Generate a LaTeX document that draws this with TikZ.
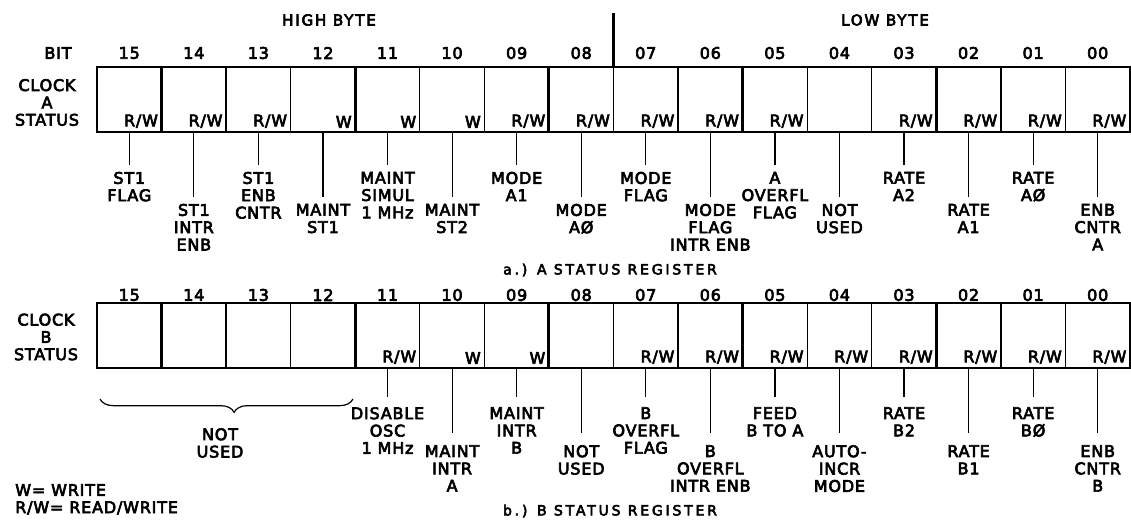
\documentclass[tikz,border=0pt]{standalone}
\usepackage{fontspec}
\setmainfont{DejaVu Sans}[LetterSpace=5,FakeBold=4]
\newfontfamily\ttlfont{DejaVu Sans}[LetterSpace=20,FakeBold=4]
\newfontfamily\bytefont{DejaVu Sans}[LetterSpace=12,FakeBold=4]
\usetikzlibrary{decorations.pathreplacing,calc}
\newcommand\acRW{R/W}
\begin{document}
\begin{tikzpicture}[x=0.75pt,y=-0.75pt,
  cell/.style={draw,line width=1pt,minimum width=48.42pt,minimum height=48.75pt,inner sep=0pt,outer sep=0pt},
  txt/.style={font=\fontsize{12}{13}\selectfont,inner sep=0pt},
  lab/.style={txt,align=center,anchor=north,inner xsep=0pt},
  acc/.style={txt,anchor=south east},
  lead/.style={line width=0.9pt},
  grp/.style={line width=2.2pt},
  frame/.style={line width=1.8pt},
  ttl/.style={inner sep=0pt,font=\ttlfont\fontsize{10.5}{12}\selectfont}]
\useasboundingbox (0,0) rectangle (1131,519);

% ---------- headings ----------
\node[inner sep=0pt,font=\bytefont\fontsize{11.3}{12}\selectfont] (hb) at (329,20) {HIGH BYTE};
\node[inner sep=0pt,font=\bytefont\fontsize{11.3}{12}\selectfont] (lb) at (885,20) {LOW BYTE};
\node[txt] (bit) at (58,53) {BIT};

% ---------- register A ----------
\foreach \n/\a [count=\i from 0] in {15/\acRW,14/\acRW,13/\acRW,12/W,11/W,10/W,09/\acRW,08/\acRW,07/\acRW,06/\acRW,05/\acRW,04/{},03/\acRW,02/\acRW,01/\acRW,00/\acRW}{
  \node[cell] (a\n) at ({97+64.5625*(\i+0.5)},99.5) {};
  \node[txt] (an\n) at ({97+64.5625*(\i+0.5)},53) {\n};
  \node[acc] (ar\n) at ([xshift=-2.5pt,yshift=3pt]a\n.south east) {\a};
}
\draw[frame] (a15.north west) rectangle (a00.south east);
\foreach \n in {14,11,08,05,02} \draw[grp] (a\n.north west) -- (a\n.south west);
\coordinate (bytetop) at ([yshift=40.5pt]a08.north east);
\draw[grp] (a08.north east) -- (bytetop);
\node[txt,align=center] (clka) at (47,102.5) {CLOCK\\A\\STATUS};

\foreach \n/\e/\t [count=\i from 0] in {
  15/165/{ST1\\FLAG},14/197/{ST1\\INTR\\ENB},13/165/{ST1\\ENB\\CNTR},12/197/{MAINT\\ST1},
  11/165/{MAINT\\SIMUL\\1 MHz},10/197/{MAINT\\ST2},09/165/{MODE\\A1},08/197/{MODE\\AØ},
  07/165/{MODE\\FLAG},06/197/{MODE\\FLAG\\INTR ENB},05/165/{A\\OVERFL\\FLAG},04/197/{NOT\\USED},
  03/165/{RATE\\A2},02/197/{RATE\\A1},01/165/{RATE\\AØ},00/197/{ENB\\CNTR\\A}}{
  \node[lab,inner ysep=5pt] (al\n) at ({97+64.5625*(\i+0.5)},\e) {\t};
  \draw[lead] (a\n.south) -- (al\n.north);
}
\node[ttl] (tta) at (610,270) {a.) A STATUS REGISTER};

% ---------- register B ----------
\foreach \n/\a [count=\i from 0] in {15/{},14/{},13/{},12/{},11/\acRW,10/W,09/W,08/{},07/\acRW,06/\acRW,05/\acRW,04/\acRW,03/\acRW,02/\acRW,01/\acRW,00/\acRW}{
  \node[cell] (b\n) at ({97+64.5625*(\i+0.5)},335.5) {};
  \node[txt] (bn\n) at ({97+64.5625*(\i+0.5)},295) {\n};
  \node[acc] (br\n) at ([xshift=-2.5pt,yshift=3pt]b\n.south east) {\a};
}
\draw[frame] (b15.north west) rectangle (b00.south east);
\foreach \n in {14,11,08,05,02} \draw[grp] (b\n.north west) -- (b\n.south west);
\node[txt,align=center] (clkb) at (46,337) {CLOCK\\B\\STATUS};

\foreach \n/\e/\g/\t [count=\i from 4] in {
  11/397/7.5/{DISABLE\\OSC\\1 MHz},10/433/9/{MAINT\\INTR\\A},09/397/7.5/{MAINT\\INTR\\B},08/433/9/{NOT\\USED},
  07/397/7.5/{B\\OVERFL\\FLAG},06/433/9/{B\\OVERFL\\INTR ENB},05/397/7.5/{FEED\\B TO A},04/433/9/{AUTO-\\INCR\\MODE},
  03/397/7.5/{RATE\\B2},02/433/9/{RATE\\B1},01/397/7.5/{RATE\\BØ},00/433/9/{ENB\\CNTR\\B}}{
  \node[lab,inner ysep=\g pt] (bl\n) at ({97+64.5625*(\i+0.5)},\e) {\t};
  \draw[lead] (b\n.south) -- (bl\n.north);
}
\draw[lead,decorate,decoration={brace,mirror,amplitude=10pt,aspect=0.53}] (100,399) -- (353,399);
\node[lab,anchor=center] (nu) at (220,443) {NOT\\USED};
\node[ttl] (ttb) at (610,511) {b.) B STATUS REGISTER};

% ---------- legend ----------
\node[txt,anchor=west] (lw) at (15,490) {W= WRITE};
\node[txt,anchor=west] (lrw) at (15,508) {R/W= READ/WRITE};
\end{tikzpicture}
\end{document}
